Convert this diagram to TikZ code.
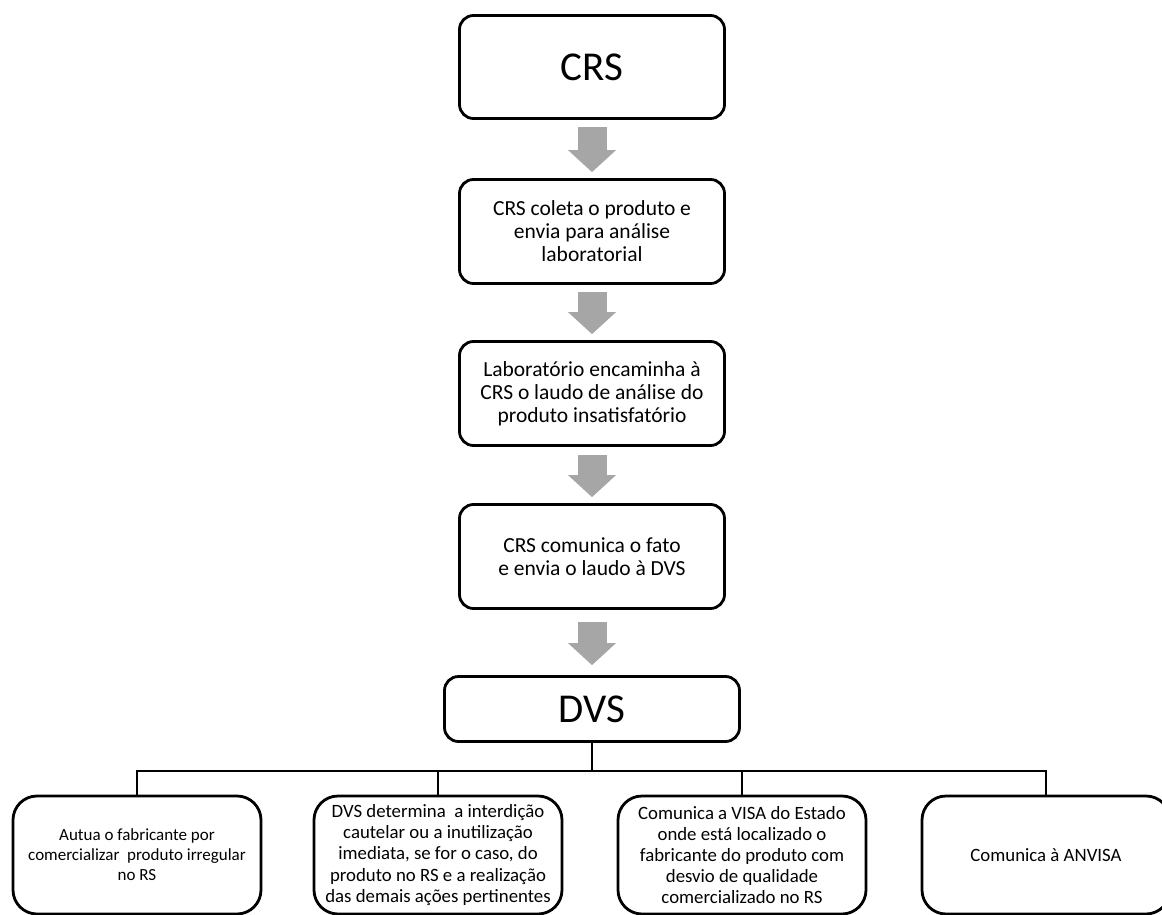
\documentclass[tikz,border=0pt]{standalone}
\usepackage{fontspec}
\setmainfont{Carlito}
\usetikzlibrary{arrows.meta}
\definecolor{arrowgray}{RGB}{166,166,166}

\begin{document}
\begin{tikzpicture}[x=1pt,y=-1pt,
  box/.style={draw,line width=2.8pt,rounded corners=14pt,fill=white,align=center,inner sep=0pt},
  big/.style={box,font=\fontsize{41}{45}\selectfont},
  mid/.style={box,minimum width=265pt,minimum height=104pt,font=\fontsize{21.5}{23}\selectfont},
  leaf/.style={box,rounded corners=24pt,minimum width=248pt,minimum height=118pt},
  leafsmall/.style={leaf,font=\fontsize{17}{20}\selectfont},
  leafbig/.style={leaf,font=\fontsize{18.8}{21.2}\selectfont},
  blockarrow/.style={line width=29pt,draw=arrowgray,-{Triangle[width=48pt,length=22pt,line width=0pt]}},
  tree/.style={line width=2.5pt}]
 \useasboundingbox (0,0) rectangle (1162,915);
 \clip (0,0) rectangle (1162,915);
 % main column
 \node[big,minimum width=265pt,minimum height=103pt] (crs) at (592,67) {CRS};
 \node[mid] (coleta) at (592,231.5) {CRS coleta o produto e\\envia para análise\\laboratorial};
 \node[mid] (laudo) at (592,393.5) {Laboratório encaminha à\\CRS o laudo de análise do\\produto insatisfatório};
 \node[mid] (comunica) at (592,556.5) {CRS comunica o fato\\e envia o laudo à DVS};
 \node[big,minimum width=295pt,minimum height=65pt] (dvs) at (592,709) {DVS};
 \foreach \a/\b/\s/\e in {crs/coleta/7/6,coleta/laudo/7/6,laudo/comunica/8/6,comunica/dvs/12/10}
  \draw[blockarrow] ([yshift=-\s pt]\a.south) -- ([yshift=\e pt]\b.north);
 % actions of the DVS
 \node[leafsmall,text depth=-4pt] (autua) at (137,855) {Autua o fabricante por\\comercializar\ \ produto irregular\\no RS};
 \node[leafbig] (interdicao) at (438,855) {DVS determina\ \ a interdição\\cautelar ou a inutilização\\imediata, se for o caso, do\\produto no RS e a realização\\das demais ações pertinentes};
 \node[leafbig] (visa) at (742,855) {Comunica a VISA do Estado\\onde está localizado o\\fabricante do produto com\\desvio de qualidade\\comercializado no RS};
 \node[leafbig] (anvisa) at (1046,855) {Comunica à ANVISA};
 \coordinate (bus) at (592,771);
 \foreach \b in {autua,interdicao,visa,anvisa}
  \draw[tree] (dvs.south) -- (bus) -| (\b.north);
\end{tikzpicture}
\end{document}
